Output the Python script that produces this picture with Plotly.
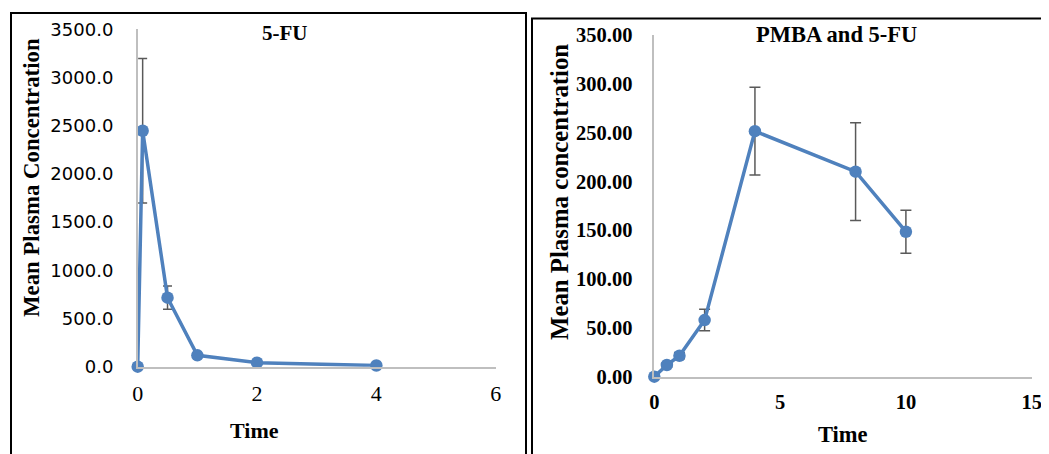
import plotly.graph_objects as go

# The page body adds an 8px margin, so the figure covers the window from (8, 8).
OFF = 8
W, H = 1049 - OFF, 454 - OFF

# Left panel: 5-FU
time_5fu = [0, 0.083, 0.5, 1, 2, 4]
conc_5fu = [0, 2448, 716, 118, 42, 12]
err_5fu = [0, 750, 120, 0, 0, 0]

# Right panel: PMBA and 5-FU
time_pmba = [0, 0.5, 1, 2, 4, 8, 10]
conc_pmba = [0, 12, 21.5, 58, 251.5, 210, 148.5]
err_pmba = [0, 2, 3, 11, 45, 50, 22]

left_xticks = [0, 2, 4, 6]
right_xticks = [0, 5, 10, 15]
left_yticks = [0, 500, 1000, 1500, 2000, 2500, 3000, 3500]
right_yticks = [0, 50, 100, 150, 200, 250, 300, 350]

BLUE = "#4F81BD"
ERR = "#595959"
AXC = "#BFBFBF"
SERIF = "Liberation Serif"


def px_x(p):
    return (p - OFF) / W


def px_y(p):
    return 1 - (p - OFF) / H


fig = go.Figure()

fig.add_trace(go.Scatter(
    x=time_5fu, y=conc_5fu, mode="lines+markers",
    line=dict(color=BLUE, width=3.5),
    marker=dict(color=BLUE, size=12.5),
    error_y=dict(type="data", array=err_5fu, color=ERR, thickness=1.5, width=4.5),
    cliponaxis=False, xaxis="x", yaxis="y", showlegend=False,
))
fig.add_trace(go.Scatter(
    x=time_pmba, y=conc_pmba, mode="lines+markers",
    line=dict(color=BLUE, width=3.5),
    marker=dict(color=BLUE, size=12.5),
    error_y=dict(type="data", array=err_pmba, color=ERR, thickness=1.5, width=5.5),
    cliponaxis=False, xaxis="x2", yaxis="y2", showlegend=False,
))

common_axis = dict(showgrid=False, zeroline=False, showline=True, linecolor=AXC,
                   linewidth=1.5, ticks="", fixedrange=True, automargin=False)

fig.update_layout(
    width=W, height=H,
    margin=dict(l=0, r=0, t=0, b=0, pad=0, autoexpand=False),
    paper_bgcolor="white", plot_bgcolor="white",
    showlegend=False,
    xaxis=dict(domain=[px_x(137.7), px_x(495.7)], range=[0, 6], tickvals=left_xticks,
               ticktext=[str(v) for v in left_xticks],
               tickfont=dict(family=SERIF, size=22, color="black"),
               ticklabelstandoff=6, anchor="y", **common_axis),
    yaxis=dict(domain=[px_y(366.7), px_y(29.3)], range=[0, 3500], tickvals=left_yticks,
               ticktext=[f"{v:.1f}" for v in left_yticks],
               tickfont=dict(family="DejaVu Sans", size=18, color="black"),
               ticklabelstandoff=19, anchor="x", **common_axis),
    xaxis2=dict(domain=[px_x(654.3), px_x(1031.7)], range=[0, 15], tickvals=right_xticks,
                ticktext=[str(v) for v in right_xticks],
                tickfont=dict(family=SERIF, size=20.5, color="black", weight="bold"),
                ticklabelstandoff=6, anchor="y2", **common_axis),
    yaxis2=dict(domain=[px_y(376.7), px_y(35)], range=[0, 350], tickvals=right_yticks,
                ticktext=[f"{v:.2f}" for v in right_yticks],
                tickfont=dict(family=SERIF, size=20.5, color="black", weight="bold"),
                ticklabelstandoff=16, anchor="x2", **common_axis),
)

# Panel borders
fig.add_shape(type="rect", xref="paper", yref="paper",
              x0=px_x(11), x1=px_x(526), y0=px_y(470), y1=px_y(13),
              line=dict(color="black", width=2), fillcolor="rgba(0,0,0,0)", layer="below")
fig.add_shape(type="rect", xref="paper", yref="paper",
              x0=px_x(532), x1=px_x(1070), y0=px_y(470), y1=px_y(18.5),
              line=dict(color="black", width=2), fillcolor="rgba(0,0,0,0)", layer="below")


def text(x, y, s, size, angle=0):
    fig.add_annotation(x=px_x(x), y=px_y(y), xref="paper", yref="paper", text=s,
                       showarrow=False, textangle=angle, xanchor="center", yanchor="middle",
                       font=dict(family=SERIF, size=size, color="black", weight="bold"))


text(285, 33, "5-FU", 21)
text(836, 35, "PMBA and 5-FU", 22.5)
text(31, 178, "Mean Plasma Concentration", 22.8, -90)
text(559, 192, "Mean Plasma concentration", 24.8, -90)
text(254, 430, "Time", 22)
text(843, 434, "Time", 22.5)

fig.write_html("out.html", config={"responsive": False})
